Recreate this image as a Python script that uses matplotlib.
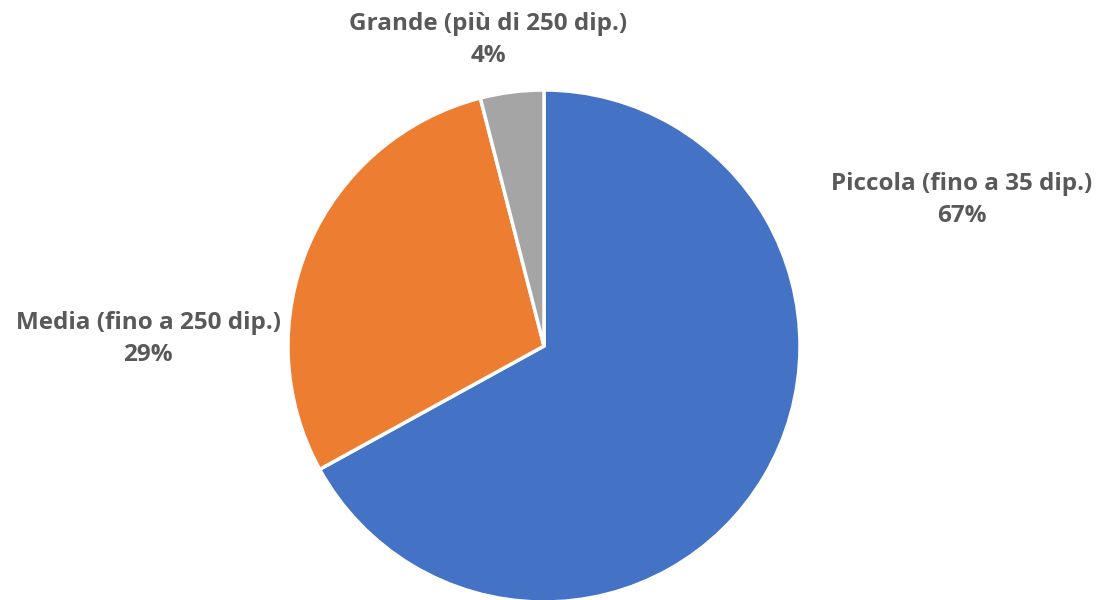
import matplotlib
matplotlib.use("Agg")
import matplotlib.pyplot as plt

categories = ["Piccola (fino a 35 dip.)", "Media (fino a 250 dip.)", "Grande (più di 250 dip.)"]
shares = [67, 29, 4]
colors = ["#4472C4", "#ED7D31", "#A5A5A5"]

# label anchor points (pixel layout, y from top)
label_pos = [(962, 200), (148, 339), (488, 40)]

fig = plt.figure(figsize=(11.06, 6.0), dpi=100)
ax = fig.add_axes([0, 0, 1, 1])

wedges, _ = ax.pie(shares, colors=colors, startangle=90, counterclock=False,
                   center=(544, 600 - 346), radius=256,
                   wedgeprops=dict(edgecolor="white", linewidth=2.5))
ax.set_xlim(0, 1106)
ax.set_ylim(0, 600)
ax.set_aspect("equal")
ax.axis("off")

for name, val, (x, y) in zip(categories, shares, label_pos):
    ax.text(x, 600 - y, f"{name}\n{val}%", ha="center", va="center",
            fontsize=17.5, fontweight="bold", color="#595959",
            family="Open Sans", linespacing=1.4)

fig.savefig("out.png", dpi=100, facecolor="white")
